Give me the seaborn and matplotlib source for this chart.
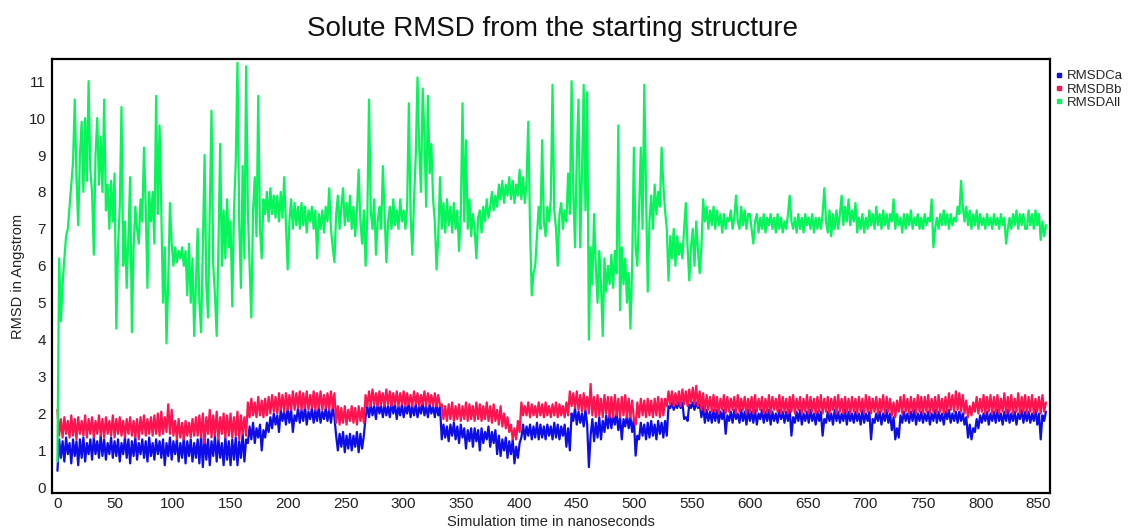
import numpy as np
import pandas as pd
import matplotlib
matplotlib.use("Agg")
import matplotlib.pyplot as plt
from matplotlib.lines import Line2D
import seaborn as sns

# Simulation time grid (ns), one frame every 1.5 ns
time_ns = np.arange(572) * 1.5

# RMSD of C-alpha atoms (Angstrom), 30 ns per row
rmsd_ca = [
    0.45, 1.3, 0.8, 1.25, 0.7, 1.35, 0.9, 1.2, 0.65, 1.3, 0.85, 1.25, 0.6, 1.3, 0.8, 1.35, 0.7, 1.2, 0.9, 1.3,
    0.75, 1.35, 0.9, 1.25, 0.8, 1.4, 0.85, 1.3, 0.75, 1.2, 0.9, 1.35, 0.8, 1.25, 0.85, 1.3, 0.7, 1.2, 0.9, 1.35,
    0.8, 1.3, 0.65, 1.25, 0.85, 1.35, 0.75, 1.2, 0.9, 1.3, 0.8, 1.25, 0.7, 1.35, 0.85, 1.2, 0.75, 1.3, 0.9, 1.25,
    0.8, 1.3, 0.6, 1.2, 0.85, 1.35, 0.75, 1.25, 0.9, 1.3, 0.7, 1.2, 0.8, 1.35, 0.65, 1.25, 0.85, 1.3, 0.7, 1.2,
    0.8, 1.3, 0.65, 1.4, 0.55, 1.35, 0.75, 1.3, 0.6, 1.25, 0.85, 1.4, 0.7, 1.3, 0.8, 1.2, 0.6, 1.35, 0.75, 1.25,
    0.6, 1.3, 0.75, 1.35, 0.6, 1.25, 0.8, 1.45, 0.7, 1.3, 1.2, 1.65, 1.3, 1.75, 1.2, 1.6, 1.35, 1.7, 1.0, 1.55,
    1.35, 1.75, 1.5, 1.9, 1.6, 2.0, 1.7, 1.95, 1.5, 2.1, 1.8, 2.05, 1.7, 2.15, 1.75, 2.1, 1.5, 1.95, 1.8, 2.15,
    1.75, 2.1, 1.8, 2.2, 1.7, 2.05, 1.85, 2.15, 1.75, 2.1, 1.8, 2.2, 1.75, 2.05, 1.85, 2.15, 1.8, 2.1, 1.75, 2.15,
    1.9, 1.4, 1.0, 1.45, 1.1, 1.5, 0.95, 1.4, 1.05, 1.45, 1.0, 1.4, 1.1, 1.5, 0.95, 1.45, 1.05, 1.4, 1.9, 2.2,
    1.9, 2.25, 1.95, 2.2, 1.85, 2.3, 2.0, 2.2, 1.9, 2.25, 1.95, 2.2, 1.9, 2.3, 2.0, 2.25, 1.85, 2.2, 1.95, 2.25,
    1.9, 2.2, 2.0, 2.3, 1.9, 2.2, 1.95, 2.25, 1.9, 2.2, 2.0, 2.3, 1.95, 2.2, 1.9, 2.25, 2.0, 2.2, 1.9, 2.25,
    1.95, 2.2, 1.3, 1.7, 1.35, 1.65, 1.25, 1.7, 1.4, 1.75, 1.3, 1.65, 1.2, 1.7, 1.35, 1.6, 1.05, 1.55, 1.25, 1.6,
    1.1, 1.6, 1.25, 1.55, 1.0, 1.6, 1.2, 1.5, 1.3, 1.65, 1.1, 1.5, 1.2, 1.55, 0.9, 1.4, 0.85, 1.3, 1.0, 1.35,
    0.8, 1.25, 0.9, 1.3, 0.65, 1.1, 0.8, 1.2, 1.35, 1.7, 1.3, 1.65, 1.4, 1.7, 1.3, 1.65, 1.35, 1.75, 1.3, 1.7,
    1.35, 1.65, 1.3, 1.7, 1.4, 1.65, 1.3, 1.75, 1.35, 1.7, 1.3, 1.65, 1.4, 1.7, 1.1, 1.6, 1.0, 2.0, 1.8, 2.15,
    1.7, 2.05, 1.75, 2.0, 1.65, 2.1, 1.7, 0.55, 1.4, 1.85, 1.25, 1.75, 1.35, 1.9, 1.3, 1.8, 1.5, 1.95, 1.6, 2.0,
    1.6, 1.95, 1.7, 2.0, 1.55, 1.9, 1.3, 1.85, 1.65, 1.95, 1.6, 1.9, 1.5, 1.85, 0.86, 1.4, 1.3, 1.75, 1.4, 1.7,
    1.3, 1.75, 1.35, 1.8, 1.4, 1.7, 1.3, 1.8, 1.45, 1.75, 1.35, 1.8, 1.4, 2.2, 2.15, 2.3, 2.1, 2.25, 2.15, 2.3,
    2.15, 2.3, 1.85, 1.9, 1.8, 2.25, 2.15, 2.3, 2.1, 2.3, 2.15, 2.25, 1.9, 2.2, 1.75, 2.1, 1.8, 2.05, 1.75, 2.1,
    1.8, 2.1, 1.75, 2.05, 1.85, 2.1, 1.45, 1.95, 1.8, 2.05, 1.75, 2.1, 1.85, 2.0, 1.75, 2.1, 1.8, 2.05, 1.7, 2.1,
    1.8, 2.05, 1.75, 2.1, 1.7, 2.0, 1.85, 2.1, 1.75, 2.05, 1.8, 2.1, 1.7, 2.05, 1.8, 2.0, 1.75, 2.1, 1.85, 2.05,
    1.75, 2.05, 1.8, 2.1, 1.4, 1.9, 1.75, 2.05, 1.8, 2.1, 1.7, 2.0, 1.8, 2.05, 1.75, 2.1, 1.8, 2.0, 1.7, 2.05,
    1.8, 2.05, 1.4, 1.85, 1.75, 2.05, 1.8, 2.0, 1.7, 2.1, 1.8, 2.05, 1.75, 2.0, 1.8, 2.1, 1.7, 2.05, 1.8, 2.0,
    1.75, 2.05, 1.8, 2.0, 1.7, 2.1, 1.75, 2.0, 1.8, 2.05, 1.3, 1.85, 1.75, 2.0, 1.8, 2.05, 1.7, 2.0, 1.8, 2.1,
    1.75, 2.0, 1.55, 1.9, 1.3, 1.6, 1.35, 1.95, 1.75, 2.05, 1.8, 2.0, 1.75, 2.05, 1.8, 2.1, 1.7, 2.0, 1.8, 2.05,
    1.75, 2.0, 1.8, 2.05, 1.7, 2.0, 1.8, 2.1, 1.75, 2.05, 1.8, 2.0, 1.7, 2.05, 1.85, 2.1, 1.75, 2.0, 1.8, 2.05,
    1.75, 2.05, 1.8, 2.0, 1.7, 1.9, 1.35, 1.7, 1.3, 1.6, 1.5, 1.85, 1.6, 1.95, 1.75, 2.0, 1.8, 2.05, 1.7, 2.0,
    1.8, 2.05, 1.75, 2.1, 1.8, 2.0, 1.7, 2.05, 1.8, 2.1, 1.75, 2.0, 1.8, 2.05, 1.7, 2.0, 1.85, 2.1, 1.75, 2.05,
    1.8, 2.05, 1.75, 2.0, 1.8, 2.1, 1.7, 2.0, 1.3, 1.95, 1.8, 2.05,
]

# RMSD of backbone atoms (Angstrom), 30 ns per row
rmsd_bb = [
    2.1, 1.4, 1.85, 1.35, 1.9, 1.45, 1.8, 1.35, 1.95, 1.4, 1.85, 1.3, 1.9, 1.45, 1.8, 1.4, 1.95, 1.35, 1.85, 1.45,
    1.9, 1.35, 1.8, 1.45, 1.95, 1.4, 1.85, 1.35, 1.9, 1.45, 1.8, 1.4, 1.95, 1.35, 1.85, 1.45, 1.9, 1.4, 1.8, 1.35,
    1.85, 1.45, 1.9, 1.4, 1.8, 1.35, 1.85, 1.3, 1.9, 1.45, 1.95, 1.4, 1.85, 1.45, 1.9, 1.4, 1.95, 1.45, 2.0, 1.4,
    2.05, 1.45, 1.9, 1.5, 2.25, 1.45, 2.1, 1.4, 1.8, 1.3, 1.85, 1.35, 1.75, 1.3, 1.8, 1.4, 1.75, 1.35, 1.85, 1.4,
    1.9, 1.4, 1.95, 1.35, 2.0, 1.2, 1.9, 1.45, 2.1, 1.35, 1.95, 1.4, 2.05, 1.3, 1.9, 1.45, 2.0, 1.35, 1.95, 1.4,
    2.0, 1.35, 1.9, 1.4, 2.05, 1.3, 1.95, 1.45, 1.9, 1.4, 2.3, 1.9, 2.4, 1.95, 2.3, 1.9, 2.45, 1.95, 2.35, 1.9,
    2.4, 1.95, 2.45, 2.0, 2.5, 2.05, 2.45, 2.0, 2.55, 2.1, 2.5, 2.05, 2.55, 2.1, 2.5, 2.1, 2.6, 2.1, 2.55, 2.15,
    2.6, 2.1, 2.55, 2.15, 2.6, 2.1, 2.5, 2.15, 2.6, 2.1, 2.55, 2.15, 2.6, 2.1, 2.5, 2.15, 2.55, 2.1, 2.6, 2.15,
    2.55, 1.75, 2.2, 1.7, 2.15, 1.75, 2.2, 1.7, 2.1, 1.8, 2.2, 1.75, 2.15, 1.7, 2.2, 1.8, 2.15, 1.75, 2.5, 2.2,
    2.6, 2.2, 2.65, 2.25, 2.55, 2.2, 2.6, 2.25, 2.55, 2.2, 2.65, 2.25, 2.6, 2.2, 2.55, 2.25, 2.6, 2.2, 2.55, 2.25,
    2.6, 2.2, 2.55, 2.25, 2.5, 2.2, 2.6, 2.25, 2.55, 2.2, 2.5, 2.25, 2.6, 2.2, 2.55, 2.25, 2.5, 2.2, 2.55, 2.2,
    2.5, 2.2, 2.25, 1.85, 2.2, 1.8, 2.25, 1.85, 2.3, 1.8, 2.2, 1.85, 2.25, 1.8, 2.2, 1.85, 2.3, 1.8, 2.25, 1.85,
    2.2, 1.8, 2.3, 1.85, 2.25, 1.8, 2.2, 1.85, 2.3, 1.8, 2.2, 1.75, 2.25, 1.8, 2.1, 1.7, 2.2, 1.65, 2.0, 1.6,
    1.9, 1.5, 1.7, 1.3, 1.6, 1.3, 1.8, 1.5, 2.3, 1.95, 2.2, 1.95, 2.3, 1.9, 2.25, 1.95, 2.2, 1.9, 2.3, 1.95,
    2.25, 1.9, 2.3, 1.95, 2.2, 1.9, 2.25, 1.95, 2.3, 1.9, 2.25, 1.95, 2.2, 1.9, 2.3, 1.95, 2.6, 2.2, 2.55, 2.15,
    2.6, 2.1, 2.5, 2.05, 2.55, 2.1, 2.45, 2.0, 2.8, 1.95, 2.45, 1.9, 2.5, 1.95, 2.4, 1.9, 2.5, 2.0, 2.45, 1.9,
    2.45, 1.9, 2.5, 1.95, 2.4, 1.9, 2.45, 1.95, 2.5, 1.9, 2.4, 1.9, 2.35, 1.85, 1.7, 2.3, 1.9, 2.4, 1.95, 2.35,
    1.9, 2.4, 1.95, 2.35, 1.9, 2.4, 1.95, 2.45, 1.9, 2.4, 1.95, 2.4, 2.2, 2.6, 2.25, 2.6, 2.2, 2.55, 2.25, 2.6,
    2.2, 2.65, 2.25, 2.6, 2.2, 2.65, 2.3, 2.7, 2.25, 2.75, 2.2, 2.6, 2.1, 2.55, 2.05, 2.5, 2.1, 2.45, 2.05, 2.5,
    2.05, 2.45, 2.0, 2.4, 2.1, 2.5, 2.0, 2.45, 2.05, 2.4, 2.1, 2.45, 2.0, 2.5, 2.05, 2.4, 2.1, 2.45, 2.0, 2.4,
    2.05, 2.45, 2.0, 2.5, 2.05, 2.4, 2.1, 2.45, 2.0, 2.4, 2.05, 2.5, 2.0, 2.45, 2.1, 2.4, 2.05, 2.5, 2.0, 2.45,
    2.05, 2.4, 2.0, 2.45, 2.05, 2.5, 2.0, 2.4, 2.1, 2.45, 2.0, 2.4, 2.05, 2.5, 2.0, 2.45, 2.05, 2.4, 2.0, 2.45,
    2.05, 2.5, 2.0, 2.4, 2.05, 2.45, 2.0, 2.4, 2.1, 2.45, 2.0, 2.5, 2.05, 2.4, 2.0, 2.45, 2.05, 2.4, 2.0, 2.45,
    2.05, 2.4, 2.0, 2.45, 2.05, 2.4, 2.0, 2.5, 2.05, 2.45, 2.0, 2.4, 2.05, 2.45, 2.0, 2.4, 2.05, 2.5, 2.0, 2.45,
    2.05, 2.4, 1.95, 2.3, 1.9, 2.35, 2.05, 2.45, 2.0, 2.5, 2.05, 2.4, 2.0, 2.45, 2.05, 2.4, 2.0, 2.5, 2.05, 2.45,
    2.0, 2.45, 2.05, 2.5, 2.0, 2.4, 2.05, 2.45, 2.0, 2.5, 2.05, 2.4, 2.0, 2.45, 2.05, 2.55, 2.1, 2.5, 2.05, 2.6,
    2.1, 2.55, 2.05, 2.5, 2.0, 2.35, 1.9, 2.2, 1.95, 2.3, 2.05, 2.45, 2.0, 2.4, 2.05, 2.5, 2.0, 2.45, 2.05, 2.5,
    2.0, 2.45, 2.05, 2.5, 2.0, 2.4, 2.05, 2.55, 2.0, 2.45, 2.05, 2.5, 2.0, 2.4, 2.05, 2.55, 2.0, 2.45, 2.05, 2.5,
    2.0, 2.45, 2.05, 2.5, 2.0, 2.4, 2.05, 2.45, 2.0, 2.5, 2.05, 2.3,
]

# RMSD of all solute atoms (Angstrom), 30 ns per row
rmsd_all = [
    0.7, 6.2, 4.5, 5.5, 6.2, 6.8, 7.0, 7.6, 8.2, 8.8, 10.5, 8.4, 7.1, 9.0, 9.9, 8.0, 10.0, 8.3, 11.0, 8.6,
    8.0, 6.3, 9.0, 10.0, 8.2, 9.5, 8.0, 10.5, 7.5, 8.2, 7.0, 8.3, 7.2, 8.5, 4.3, 6.5, 7.6, 10.3, 6.0, 7.2,
    5.4, 6.8, 8.4, 4.2, 6.5, 7.6, 7.0, 6.6, 7.8, 7.2, 9.2, 7.6, 5.4, 8.0, 7.2, 8.0, 6.6, 10.6, 7.4, 9.8,
    7.5, 5.0, 6.5, 3.9, 5.6, 7.7, 6.6, 6.0, 6.5, 6.1, 6.4, 6.2, 6.5, 6.0, 6.4, 5.2, 6.6, 5.0, 6.2, 4.1,
    5.5, 7.0, 5.0, 4.2, 6.5, 9.0, 5.5, 4.6, 7.5, 10.2, 6.0, 5.2, 4.1, 6.5, 9.3, 6.0, 7.5, 6.2, 7.8, 6.5,
    7.2, 4.9, 7.5, 8.8, 11.5, 7.2, 5.4, 8.7, 6.2, 11.4, 7.5, 6.0, 4.6, 7.5, 8.4, 6.8, 10.6, 7.0, 6.2, 7.8,
    7.4, 8.0, 7.2, 8.1, 7.4, 7.9, 7.3, 7.9, 7.2, 8.0, 7.3, 8.4, 7.1, 5.9, 7.2, 7.8, 7.0, 7.7, 7.1, 7.6,
    7.0, 7.7, 7.1, 7.6, 6.9, 7.5, 7.2, 7.6, 7.0, 7.5, 6.2, 7.4, 7.0, 7.5, 6.9, 7.6, 7.2, 8.1, 7.0, 6.5,
    6.1, 7.4, 7.9, 7.0, 7.6, 8.1, 7.1, 7.7, 7.2, 7.9, 7.0, 7.6, 6.8, 7.5, 8.6, 7.2, 6.6, 7.5, 6.0, 7.3,
    10.5, 7.5, 7.0, 7.8, 6.3, 7.2, 7.6, 7.0, 8.7, 7.4, 6.1, 7.2, 7.6, 7.0, 7.8, 7.1, 7.5, 7.0, 7.8, 7.2,
    7.5, 7.0, 7.6, 10.4, 7.4, 6.3, 7.8, 9.0, 11.1, 9.2, 8.0, 10.8, 9.5, 7.6, 10.6, 8.5, 9.3, 7.8, 7.2, 5.9,
    6.8, 8.4, 7.0, 7.7, 6.9, 7.8, 7.1, 7.6, 6.9, 7.7, 7.0, 7.5, 6.4, 7.4, 10.4, 7.2, 9.4, 7.0, 7.8, 6.8,
    7.4, 7.0, 6.2, 7.3, 7.5, 6.9, 7.6, 7.2, 7.8, 7.3, 7.6, 8.0, 7.5, 7.9, 7.6, 8.2, 7.8, 8.3, 7.7, 8.2,
    7.9, 8.4, 7.8, 8.3, 7.7, 8.2, 7.9, 8.6, 7.8, 8.4, 7.7, 8.3, 9.9, 7.0, 5.2, 5.8, 6.0, 6.8, 7.6, 7.0,
    9.4, 7.2, 6.8, 7.6, 7.2, 7.8, 10.9, 7.5, 7.0, 6.0, 7.4, 7.7, 7.0, 7.5, 7.2, 8.5, 7.4, 11.0, 8.0, 6.5,
    9.0, 10.5, 6.5, 8.5, 10.9, 7.5, 10.7, 4.0, 6.5, 5.5, 7.4, 6.0, 5.0, 6.4, 5.5, 4.1, 6.2, 5.3, 6.0, 5.5,
    6.3, 5.4, 6.4, 5.8, 9.8, 4.8, 6.5, 5.5, 6.2, 5.0, 5.8, 4.3, 6.0, 9.2, 6.5, 6.0, 7.5, 9.2, 7.0, 10.9,
    8.0, 5.3, 7.2, 7.9, 7.0, 8.2, 7.4, 8.0, 7.6, 9.2, 8.2, 7.5, 7.0, 5.6, 6.8, 6.2, 7.0, 6.0, 6.8, 6.3,
    6.6, 6.2, 7.0, 7.7, 6.5, 5.6, 6.5, 7.0, 6.0, 7.2, 6.4, 5.8, 6.5, 7.8, 7.2, 7.6, 7.0, 7.5, 7.1, 7.6,
    7.0, 7.5, 7.1, 7.4, 6.9, 7.4, 7.0, 7.3, 7.2, 7.5, 7.0, 7.3, 7.9, 7.2, 7.0, 7.6, 7.1, 7.5, 7.0, 7.4,
    7.4, 7.0, 6.6, 7.2, 7.4, 6.9, 7.3, 7.0, 7.4, 6.9, 7.3, 7.1, 7.4, 7.0, 7.3, 6.9, 7.4, 7.0, 7.3, 6.9,
    7.2, 7.0, 7.4, 7.9, 7.2, 7.0, 7.3, 6.9, 7.4, 7.0, 7.3, 6.9, 7.4, 7.1, 7.3, 7.0, 7.4, 6.9, 7.3, 7.0,
    7.3, 7.0, 7.4, 8.1, 7.2, 6.9, 7.5, 6.8, 7.4, 7.0, 7.5, 7.0, 7.4, 7.9, 7.1, 7.6, 7.2, 7.8, 7.1, 7.5,
    7.2, 7.7, 6.9, 7.3, 7.0, 7.4, 6.9, 7.3, 7.0, 7.5, 7.1, 7.4, 7.0, 7.6, 7.1, 7.4, 7.0, 7.5, 7.1, 7.4,
    7.0, 7.4, 7.2, 7.8, 7.0, 7.4, 7.1, 7.3, 6.9, 7.4, 7.0, 7.4, 7.1, 7.5, 7.0, 7.3, 7.1, 7.4, 7.0, 7.3,
    7.0, 7.4, 7.1, 7.3, 7.2, 7.8, 6.5, 7.0, 7.3, 7.0, 7.4, 7.1, 7.5, 7.1, 7.4, 7.0, 7.4, 7.1, 7.3, 7.2,
    7.6, 7.4, 8.3, 7.6, 7.2, 7.6, 7.1, 7.5, 7.0, 7.4, 7.1, 7.5, 7.0, 7.4, 7.1, 7.3, 7.0, 7.4, 7.1, 7.3,
    7.0, 7.4, 7.1, 7.3, 7.0, 7.4, 7.1, 7.3, 6.6, 7.0, 7.3, 7.0, 7.4, 7.1, 7.5, 7.0, 7.4, 7.1, 7.4, 7.0,
    7.0, 7.5, 7.1, 7.4, 7.0, 7.5, 7.1, 7.4, 6.7, 7.2, 6.8, 7.1,
]

series_names = ["RMSDCa", "RMSDBb", "RMSDAll"]
series_colors = ["#0d0de8", "#ff1450", "#05f55a"]
x_ticks = list(range(0, 851, 50))
y_ticks = list(range(0, 12))

df = pd.concat(
    [
        pd.DataFrame({"time": time_ns, "rmsd": vals, "series": name})
        for name, vals in zip(series_names, [rmsd_ca, rmsd_bb, rmsd_all])
    ],
    ignore_index=True,
)

sns.set_theme(style="white")
plt.rcParams["font.family"] = ["Liberation Sans", "DejaVu Sans"]

fig = plt.figure(figsize=(11.28, 5.29), dpi=100)
ax = fig.add_axes([0.0458, 0.0675, 0.885, 0.821])

sns.lineplot(
    data=df, x="time", y="rmsd", hue="series",
    hue_order=series_names, palette=series_colors,
    estimator=None, sort=False, linewidth=1.6, legend=False, ax=ax,
)

ax.set_xlim(-5, 860)
ax.set_ylim(-0.16, 11.6)
ax.set_xticks(x_ticks)
ax.set_yticks(y_ticks)
ax.tick_params(axis="both", direction="in", length=4, width=1.2,
               colors="black", labelsize=11, labelcolor="#222222")
ax.tick_params(axis="x", pad=3)
ax.tick_params(axis="y", pad=4)
for side in ["left", "right", "top", "bottom"]:
    ax.spines[side].set_visible(True)
    ax.spines[side].set_color("black")
    ax.spines[side].set_linewidth(1.6)

ax.set_xlabel("Simulation time in nanoseconds", fontsize=10.5, color="#222222", labelpad=2.5)
ax.set_ylabel("RMSD in Angstrom", fontsize=10.5, color="#222222", labelpad=3)

fig.text(0.490, 1 - 29 / 529, "Solute RMSD from the starting structure",
         ha="center", va="center", fontsize=20, color="#111111")

handles = [
    Line2D([], [], marker="s", linestyle="", color=c, markersize=3)
    for c in series_colors
]
fig.legend(
    handles, series_names, loc="upper left",
    bbox_to_anchor=(1056 / 1128, 1 - 70 / 529),
    frameon=False, fontsize=9.5, handlelength=0.4, handletextpad=0.4,
    labelspacing=0.08, borderpad=0.0, borderaxespad=0.0,
)

fig.savefig("out.png", dpi=100, facecolor="white")
